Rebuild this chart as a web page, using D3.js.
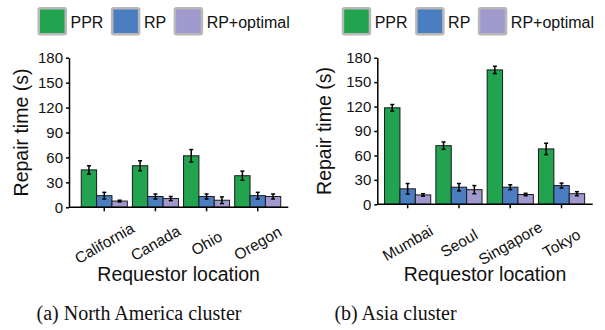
<!DOCTYPE html>
<html>
<head>
<meta charset="utf-8">
<script src="https://cdn.jsdelivr.net/npm/d3@7"></script>
<style>
  body { margin: 0; background: #fff; }
  svg { display: block; }
  text { font-family: "Liberation Sans", Arial, sans-serif; fill: #111; }
</style>
</head>
<body>
<svg id="chart" width="605" height="330"></svg>
<script>
// series + ticks
var seriesNames = ["PPR", "RP", "RP+optimal"];
var seriesColors = ["#22a34f", "#4a7ec0", "#a099cd"];
var yTicks = [0, 30, 60, 90, 120, 150, 180];

// (a) North America
var naLocations = ["California", "Canada", "Ohio", "Oregon"];
var naPPR = [45, 50, 62, 38];
var naPPRErr = [5, 6, 7.5, 5.5];
var naRP = [14, 13, 13, 14];
var naRPErr = [4, 3, 3, 4];
var naOpt = [7.5, 10.5, 8.5, 13];
var naOptErr = [1, 2.5, 4, 3];

// (b) Asia
var asLocations = ["Mumbai", "Seoul", "Singapore", "Tokyo"];
var asPPR = [118.5, 72, 165, 68];
var asPPRErr = [4, 4.5, 4.5, 7];
var asRP = [19, 21, 21, 23];
var asRPErr = [6.5, 4.5, 3, 3];
var asOpt = [11.5, 18, 12, 13];
var asOptErr = [1.5, 5, 1.5, 2.5];

var svg = d3.select("#chart");

function drawPanel(p) {
	var g = svg.append("g");

	var yScale = d3.scaleLinear()
		.domain([0, 180])
		.range([p.y0, p.y1]);

	var xScale = d3.scaleBand()
		.domain(p.locations)
		.range([p.bandStart, p.bandEnd])
		.paddingInner(0.1)
		.paddingOuter(0.05);

	var xInner = d3.scaleBand()
		.domain(seriesNames)
		.range([0, xScale.bandwidth()]);

	// one row per bar
	var rows = [];
	p.locations.forEach(function(loc, i) {
		p.values.forEach(function(vals, s) {
			rows.push({loc: loc, series: seriesNames[s], s: s, v: vals[i], e: p.errors[s][i]});
		});
	});

	g.selectAll("rect.bar")
		.data(rows)
		.enter()
		.append("rect")
		.attr("class", "bar")
		.attr("x", function(d) { return xScale(d.loc) + xInner(d.series); })
		.attr("y", function(d) { return yScale(d.v); })
		.attr("width", xInner.bandwidth())
		.attr("height", function(d) { return yScale(0) - yScale(d.v); })
		.attr("fill", function(d) { return seriesColors[d.s]; })
		.attr("stroke", "#1a1a1a")
		.attr("stroke-width", 1);

	// error bars
	var eb = g.selectAll("g.err")
		.data(rows)
		.enter()
		.append("g")
		.attr("class", "err")
		.attr("transform", function(d) {
			return "translate(" + (xScale(d.loc) + xInner(d.series) + xInner.bandwidth() / 2) + ",0)";
		})
		.attr("stroke", "#000")
		.attr("stroke-width", 1.5);
	eb.append("line")
		.attr("y1", function(d) { return yScale(d.v - d.e); })
		.attr("y2", function(d) { return yScale(d.v + d.e); });
	eb.append("line")
		.attr("x1", -2).attr("x2", 2)
		.attr("y1", function(d) { return yScale(d.v - d.e); })
		.attr("y2", function(d) { return yScale(d.v - d.e); });
	eb.append("line")
		.attr("x1", -2).attr("x2", 2)
		.attr("y1", function(d) { return yScale(d.v + d.e); })
		.attr("y2", function(d) { return yScale(d.v + d.e); });

	// Y axis
	var yAxis = d3.axisLeft(yScale)
		.tickValues(yTicks)
		.tickSize(3)
		.tickSizeOuter(0)
		.tickPadding(3);
	var ya = g.append("g")
		.attr("transform", "translate(" + p.axisX + ",0)")
		.call(yAxis);
	ya.select(".domain").attr("stroke-width", 1.5);
	ya.selectAll(".tick line").attr("stroke-width", 1.5);
	ya.selectAll("text")
		.attr("font-size", "15px")
		.attr("font-family", null)
		.attr("fill", "#111");

	// X axis
	var xAxis = d3.axisBottom(xScale)
		.tickSize(4)
		.tickSizeOuter(0);
	var xa = g.append("g")
		.attr("transform", "translate(0," + p.y0 + ")")
		.call(xAxis);
	xa.select(".domain").remove();
	xa.selectAll(".tick line").attr("stroke-width", 1.5);
	xa.selectAll("text")
		.attr("font-size", "15.5px")
		.attr("font-family", null)
		.attr("fill", "#111")
		.attr("y", 0)
		.attr("dy", null)
		.attr("text-anchor", "middle")
		.attr("dominant-baseline", "central")
		.attr("transform", "translate(0," + (243 - p.y0) + ")rotate(-30)");
	g.append("line")
		.attr("x1", p.axisX).attr("x2", p.axisEnd)
		.attr("y1", p.y0).attr("y2", p.y0)
		.attr("stroke", "#000")
		.attr("stroke-width", 1.5);

	// axis titles
	g.append("text")
		.attr("x", (p.axisX + p.axisEnd) / 2)
		.attr("y", 281)
		.attr("text-anchor", "middle")
		.attr("font-size", "19.5px")
		.text("Requestor location");

	g.append("text")
		.attr("text-anchor", "middle")
		.attr("font-size", "19.5px")
		.attr("transform", "translate(" + p.yLabelX + "," + ((p.y0 + p.y1) / 2) + ")rotate(-90)")
		.text("Repair time (s)");

	// legend
	var lx = p.legendX;
	seriesNames.forEach(function(name, s) {
		g.append("rect")
			.attr("x", lx + 1.25).attr("y", 8.25)
			.attr("width", 27).attr("height", 26)
			.attr("rx", 1.5)
			.attr("fill", seriesColors[s])
			.attr("stroke", "#b8b8b8")
			.attr("stroke-width", 2.5);
		var t = g.append("text")
			.attr("x", lx + 33)
			.attr("y", 27.5)
			.attr("font-size", "16px")
			.text(name);
		lx = lx + 33 + t.node().getComputedTextLength() + 7.5;
	});

	// caption
	svg.append("text")
		.attr("x", p.captionX)
		.attr("y", 320)
		.attr("text-anchor", "middle")
		.attr("font-size", "20px")
		.style("font-family", "'Liberation Serif', 'Times New Roman', serif")
		.text(p.caption);
}

drawPanel({
	locations: naLocations,
	values: [naPPR, naRP, naOpt],
	errors: [naPPRErr, naRPErr, naOptErr],
	y0: 207.3, y1: 57.7,
	axisX: 69, axisEnd: 288.3,
	bandStart: 78.7, bandEnd: 283.3,
	yLabelX: 28,
	legendX: 37.5,
	captionX: 139,
	caption: "(a) North America cluster"
});

drawPanel({
	locations: asLocations,
	values: [asPPR, asRP, asOpt],
	errors: [asPPRErr, asRPErr, asOptErr],
	y0: 204.3, y1: 57.7,
	axisX: 377.3, axisEnd: 592.7,
	bandStart: 382, bandEnd: 587.2,
	yLabelX: 331,
	legendX: 341.7,
	captionX: 395.5,
	caption: "(b) Asia cluster"
});
</script>
</body>
</html>
